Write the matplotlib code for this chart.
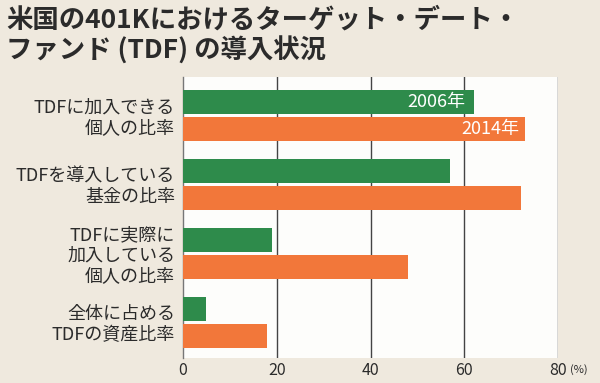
import matplotlib.pyplot as plt
import numpy as np

plt.rcParams['font.family'] = ['Noto Sans CJK JP', 'DejaVu Sans']

# data
categories = ['TDFに加入できる\n個人の比率', 'TDFを導入している\n基金の比率',
              'TDFに実際に\n加入している\n個人の比率', '全体に占める\nTDFの資産比率']
vals_2006 = [62, 57, 19, 5]
vals_2014 = [73, 72, 48, 18]
years = ['2006年', '2014年']
xticks = [0, 20, 40, 60, 80]

bg = '#efe9de'
green = '#2e8b4b'
orange = '#f2773a'
txt = '#2b2b2b'

fig = plt.figure(figsize=(6, 3.83), dpi=100, facecolor=bg)
ax = fig.add_axes([0.305, 0.065, 0.625, 0.734])
ax.set_facecolor('#fdfdfb')

y = np.arange(len(categories))
h = 0.35
off = 0.196
ax.barh(y - off, vals_2006, height=h, color=green, zorder=3)
ax.barh(y + off, vals_2014, height=h, color=orange, zorder=3)

ax.set_xlim(0, 80)
ax.set_ylim(3 + 0.514, -0.558)

for xv in xticks[1:]:
    ax.axvline(xv, color='#444444', lw=1, zorder=2)
for s in ['top', 'right', 'bottom']:
    ax.spines[s].set_visible(False)
ax.spines['left'].set_color('#777777')
ax.spines['left'].set_linewidth(1)

ax.set_yticks([])
ax.set_xticks(xticks)
ax.set_xticklabels([str(t) for t in xticks], fontsize=11.5, color=txt)
ax.tick_params(axis='x', length=0, pad=3)
ax.text(82.6, -0.04, '(%)', transform=ax.get_xaxis_transform(), fontsize=8,
        color=txt, ha='left', va='center')

# category labels
for i, lab in enumerate(categories):
    ax.text(-1.7, i + 0.03, lab, ha='right', va='center', fontsize=13,
            color=txt, linespacing=1.2, clip_on=False)

# year labels inside first bars
ax.text(vals_2006[0] - 1.7, 0 - off, years[0], ha='right', va='center',
        fontsize=13, color='white', zorder=4)
ax.text(vals_2014[0] - 1.2, 0 + off, years[1], ha='right', va='center',
        fontsize=13, color='white', zorder=4)

# title
fig.text(0.01, 0.947, '米国の401Kにおけるターゲット・デート・', fontsize=19,
         fontweight='bold', color=txt, ha='left', va='center')
fig.text(0.01, 0.868, 'ファンド (TDF) の導入状況', fontsize=19,
         fontweight='bold', color=txt, ha='left', va='center')

fig.savefig('out.png', dpi=100, facecolor=bg)
